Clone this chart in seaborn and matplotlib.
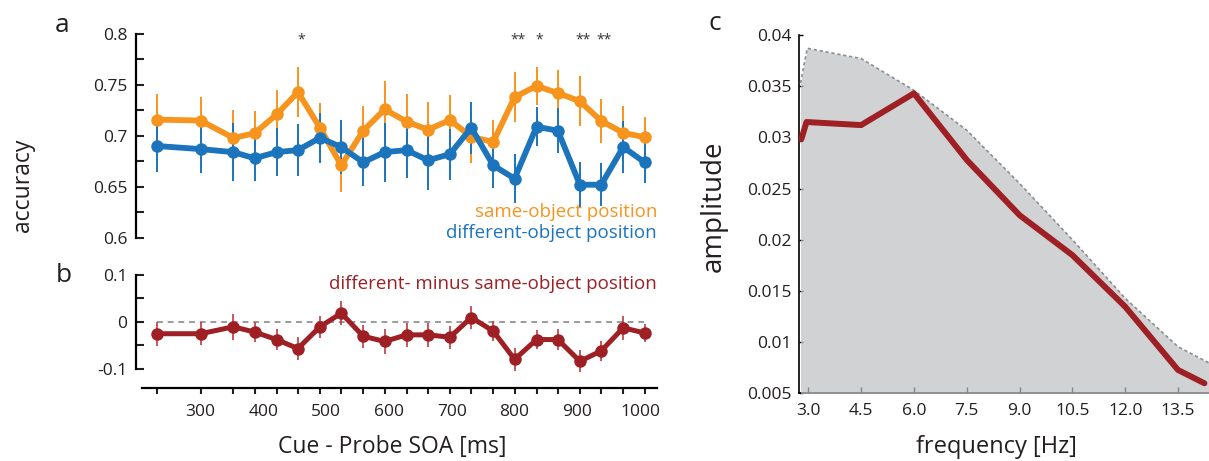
import matplotlib
matplotlib.use("Agg")
import matplotlib.pyplot as plt
import matplotlib.transforms as mtransforms
import numpy as np
import pandas as pd
import seaborn as sns

# ---------------- data ----------------
soa_ms = [231, 300, 352, 386, 421, 455, 490, 524, 559, 593, 628,
          662, 697, 731, 766, 800, 835, 869, 904, 938, 973, 1007]
same_acc = [0.716, 0.715, 0.698, 0.7025, 0.721, 0.743, 0.708, 0.671, 0.705, 0.726, 0.714,
            0.706, 0.7155, 0.699, 0.694, 0.738, 0.749, 0.742, 0.734, 0.7146, 0.703, 0.6986]
same_err = [0.0255, 0.023, 0.0275, 0.0216, 0.0236, 0.0243, 0.0245, 0.0265, 0.0239, 0.0282, 0.0272,
            0.0275, 0.0245, 0.0255, 0.0213, 0.0245, 0.019, 0.0229, 0.0245, 0.0213, 0.0262, 0.0196]
diff_acc = [0.690, 0.687, 0.684, 0.678, 0.684, 0.686, 0.698, 0.689, 0.674, 0.684, 0.686,
            0.676, 0.682, 0.708, 0.671, 0.658, 0.709, 0.705, 0.652, 0.652, 0.689, 0.674]
diff_err = [0.0255, 0.023, 0.0285, 0.0219, 0.0236, 0.0252, 0.0245, 0.0269, 0.0236, 0.029, 0.0275,
            0.0295, 0.0252, 0.0255, 0.0219, 0.024, 0.019, 0.022, 0.0226, 0.0212, 0.0255, 0.02]
delta = [-0.0256, -0.0256, -0.011, -0.022, -0.038, -0.057, -0.011, 0.018, -0.031, -0.042, -0.028,
         -0.028, -0.033, 0.0088, -0.020, -0.080, -0.038, -0.038, -0.084, -0.062, -0.0131, -0.024]
delta_err = [0.0256, 0.024, 0.028, 0.022, 0.023, 0.024, 0.024, 0.025, 0.024, 0.027, 0.026,
             0.026, 0.024, 0.025, 0.022, 0.024, 0.02, 0.022, 0.023, 0.021, 0.025, 0.02]
sig_marks = ["", "", "", "", "", "*", "", "", "", "", "",
             "", "", "", "", "**", "*", "", "**", "**", "", ""]
soa_label_ticks = [300, 400, 500, 600, 700, 800, 900, 1000]
acc_ticks = [0.6, 0.65, 0.7, 0.75, 0.8]
acc_tick_labels = ["0.6", "0.65", "0.7", "0.75", "0.8"]
delta_ticks = [-0.1, 0.0, 0.1]
delta_tick_labels = ["-0.1", "0", "0.1"]

freq_hz = [2.8, 2.95, 4.5, 6.0, 7.5, 9.0, 10.5, 12.0, 13.5, 14.25]
amplitude = [0.0298, 0.0315, 0.0312, 0.0343, 0.0278, 0.0224, 0.0185, 0.01346, 0.00728, 0.00598]
env_hz = [2.78, 2.97, 4.5, 6.0, 7.5, 9.0, 10.5, 12.0, 13.5, 14.4]
env_amp = [0.0353, 0.0387, 0.0377, 0.0346, 0.0307, 0.0255, 0.0200, 0.01428, 0.00955, 0.00793]
freq_ticks = [3.0, 4.5, 6.0, 7.5, 9.0, 10.5, 12.0, 13.5]
freq_tick_labels = ["3.0", "4.5", "6.0", "7.5", "9.0", "10.5", "12.0", "13.5"]
amp_ticks = [0.005, 0.01, 0.015, 0.02, 0.025, 0.03, 0.035, 0.04]
amp_tick_labels = ["0.005", "0.01", "0.015", "0.02", "0.025", "0.03", "0.035", "0.04"]

# ---------------- style ----------------
sns.set_theme(style="white")
plt.rcParams["font.family"] = ["Open Sans", "DejaVu Sans"]
plt.rcParams["text.color"] = "#231f20"
plt.rcParams["xtick.color"] = "#231f20"
plt.rcParams["ytick.color"] = "#231f20"

ORANGE = "#f7941d"
BLUE = "#1c75bc"
RED = "#9e1f24"
FILL = "#bdc0c2"
TICKFS = 12.5
XLIM = (206.7, 1026.8)

W, H = 1209, 461
fig = plt.figure(figsize=(W / 100, H / 100), dpi=100)


def axes_px(l, t, r, b):
    return fig.add_axes([l / W, 1 - b / H, (r - l) / W, (b - t) / H])


df = pd.DataFrame({"soa": soa_ms, "same": same_acc, "diff": diff_acc, "delta": delta})

# ---------------- panel a ----------------
axa = axes_px(142, 34, 657, 237.7)
for col, err, color in [("same", same_err, ORANGE), ("diff", diff_err, BLUE)]:
    axa.errorbar(df["soa"], df[col], yerr=err, fmt="none", ecolor=color,
                 elinewidth=1.4, capsize=0, zorder=2, clip_on=False)
    sns.lineplot(data=df, x="soa", y=col, ax=axa, color=color, linewidth=4.2,
                 marker="o", markersize=9, markeredgewidth=0, zorder=3, clip_on=False)
axa.set_xlim(*XLIM)
axa.set_ylim(0.6, 0.8)
axa.set_xticks([])
axa.set_yticks(acc_ticks, acc_tick_labels)
axa.set_yticks([0.625, 0.675, 0.725, 0.775], minor=True)
axa.tick_params(axis="y", which="both", direction="in", length=6, width=1.5,
                left=True, pad=6.5, labelsize=TICKFS)
for s in ["top", "right", "bottom"]:
    axa.spines[s].set_visible(False)
axa.spines["left"].set_position(("outward", 4))
axa.spines["left"].set_linewidth(1.6)
axa.spines["left"].set_color("black")
axa.set_xlabel("")
axa.set_ylabel("")
trans = mtransforms.blended_transform_factory(axa.transData, axa.transAxes) + \
    mtransforms.ScaledTranslation(3 / 100, 0, fig.dpi_scale_trans)
for x, m in zip(soa_ms, sig_marks):
    if m:
        axa.text(x, 0.952, m, transform=trans, ha="center", va="baseline",
                 fontsize=10, color="#333333")
axa.text(1.0, 0.128, "same-object position", transform=axa.transAxes,
         ha="right", va="center", fontsize=13.5, color=ORANGE)
axa.text(1.0, 0.021, "different-object position", transform=axa.transAxes,
         ha="right", va="center", fontsize=13.5, color=BLUE)

# ---------------- panel b ----------------
axb = axes_px(142, 274.5, 657, 368.8)
axb.hlines(0, soa_ms[0], soa_ms[-1], colors="#9a9a9a", linestyles=(0, (3, 2.5)),
           linewidth=1.4, zorder=1)
axb.errorbar(df["soa"], df["delta"], yerr=delta_err, fmt="none", ecolor="#c0393e",
             elinewidth=1.2, capsize=0, zorder=2, clip_on=False)
sns.lineplot(data=df, x="soa", y="delta", ax=axb, color=RED, linewidth=3.6,
             marker="o", markersize=9, markeredgewidth=0, zorder=3, clip_on=False)
axb.set_xlim(*XLIM)
axb.set_ylim(-0.1, 0.1)
axb.set_yticks(delta_ticks, delta_tick_labels)
axb.set_yticks([-0.05, 0.05], minor=True)
axb.tick_params(axis="y", which="both", direction="in", length=6, width=1.5,
                left=True, pad=6.5, labelsize=TICKFS)
axb.xaxis.remove_overlapping_locs = False
axb.set_xticks(soa_ms, [""] * len(soa_ms))
axb.set_xticks(soa_label_ticks, [str(v) for v in soa_label_ticks], minor=True)
axb.tick_params(axis="x", which="major", direction="out", length=4.2, width=1.5, bottom=True)
axb.tick_params(axis="x", which="minor", length=0, pad=11.5, labelsize=TICKFS, bottom=True)
for s in ["top", "right"]:
    axb.spines[s].set_visible(False)
axb.spines["left"].set_position(("outward", 4))
axb.spines["bottom"].set_position(("outward", 14))
for s in ["left", "bottom"]:
    axb.spines[s].set_linewidth(1.6)
    axb.spines[s].set_color("black")
axb.set_xlabel("")
axb.set_ylabel("")
axb.text(1.0, 0.9, "different- minus same-object position", transform=axb.transAxes,
         ha="right", va="center", fontsize=13.5, color=RED)

# ---------------- panel c ----------------
axc = axes_px(799.3, 35, 1209, 393.3)
axc.fill_between(env_hz, 0.0, env_amp, color=FILL, alpha=0.7, linewidth=0, zorder=3)
axc.plot(env_hz, env_amp, color="#8c8e91", linestyle=(0, (2, 1.6)), linewidth=1.2, zorder=4)
dfc = pd.DataFrame({"freq": freq_hz, "amp": amplitude})
sns.lineplot(data=dfc, x="freq", y="amp", ax=axc, color=RED, linewidth=4.3, zorder=5)
axc.set_xlim(2.745, 14.38)
axc.set_ylim(0.005, 0.04)
axc.set_xticks(freq_ticks, freq_tick_labels)
axc.set_yticks(amp_ticks, amp_tick_labels)
axc.tick_params(axis="x", direction="in", length=4, width=1, pad=7, labelsize=TICKFS,
                bottom=True, color="black")
axc.tick_params(axis="y", direction="in", length=3, width=1, pad=5.5, labelsize=TICKFS,
                left=True, color="black")
for s in ["top", "right"]:
    axc.spines[s].set_visible(False)
for s in ["left", "bottom"]:
    axc.spines[s].set_linewidth(1.2)
    axc.spines[s].set_color("black")
axc.set_xlabel("")
axc.set_ylabel("")

# ---------------- figure texts ----------------
fig.text(23 / W, 1 - 185 / H, "accuracy", rotation=90, ha="center", va="center", fontsize=16.5)
fig.text(392 / W, 1 - 447 / H, "Cue - Probe SOA [ms]", ha="center", va="center", fontsize=16.5)
fig.text(714 / W, 1 - 206 / H, "amplitude", rotation=90, ha="center", va="center", fontsize=20)
fig.text(996 / W, 1 - 447 / H, "frequency [Hz]", ha="center", va="center", fontsize=17)
fig.text(62.5 / W, 1 - 31.5 / H, "a", ha="center", va="baseline", fontsize=19)
fig.text(64 / W, 1 - 281.5 / H, "b", ha="center", va="baseline", fontsize=19)
fig.text(715 / W, 1 - 30.5 / H, "c", ha="center", va="baseline", fontsize=19)

fig.savefig("out.png", dpi=100)
